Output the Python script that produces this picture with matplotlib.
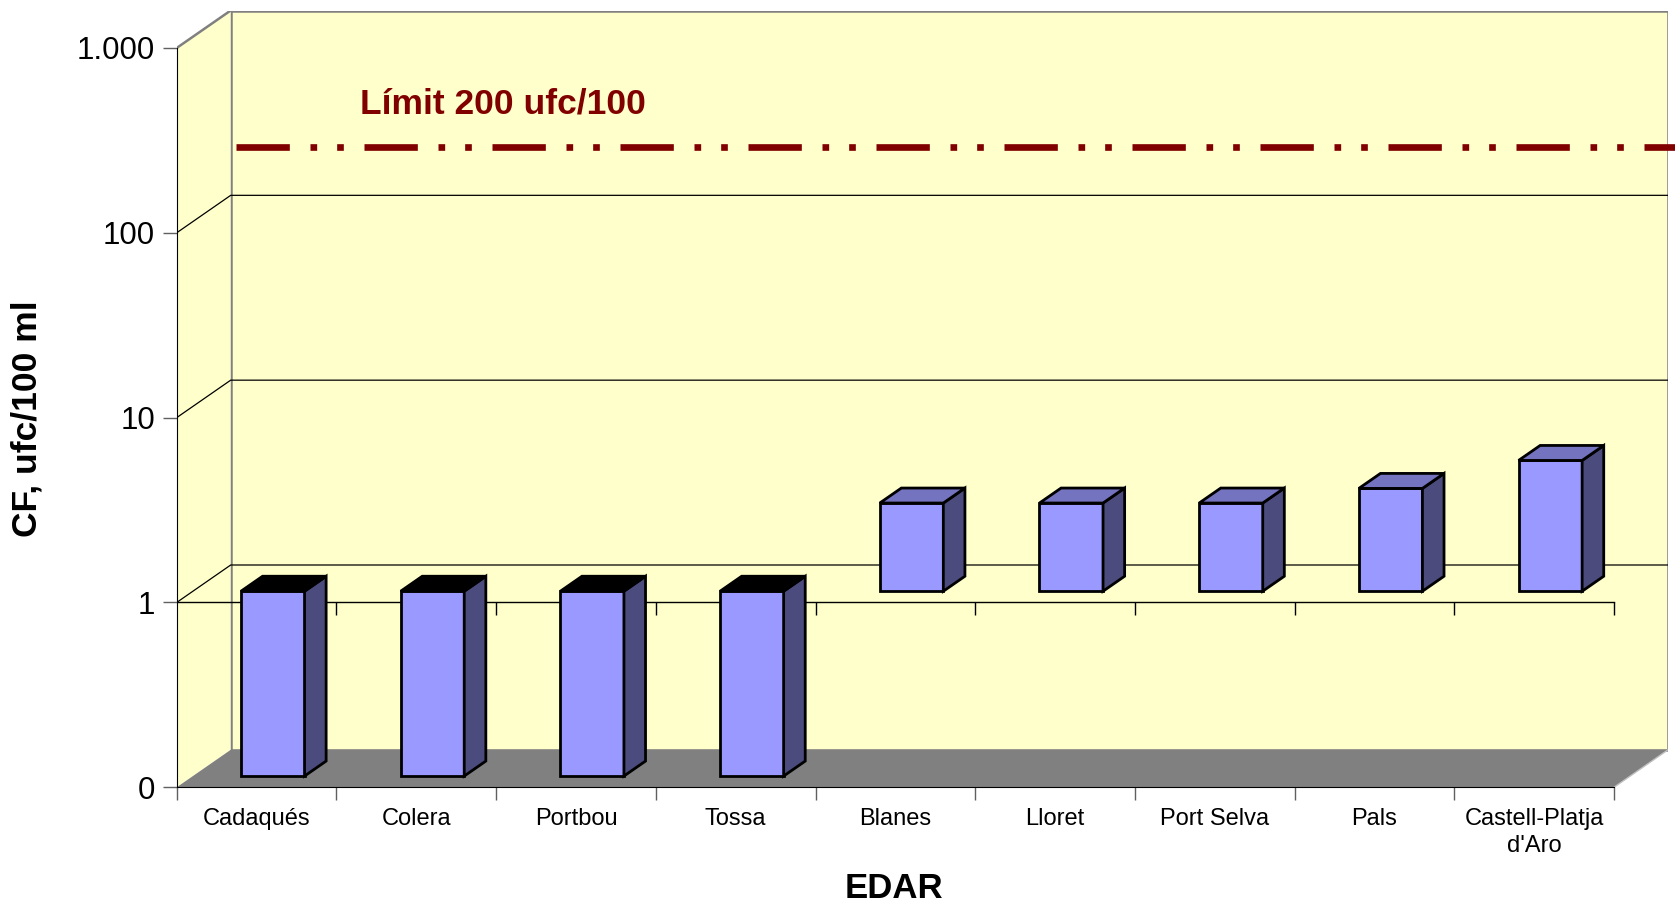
import numpy as np
import matplotlib.pyplot as plt
from matplotlib.patches import Polygon
from matplotlib.ticker import FixedLocator, NullLocator

plt.rcParams['font.family'] = ['Liberation Sans', 'DejaVu Sans']

# data
edar = ['Cadaqués', 'Colera', 'Portbou', 'Tossa', 'Blanes', 'Lloret',
        'Port Selva', 'Pals', 'Castell-Platja\nd\'Aro']
cf = [0.1, 0.1, 0.1, 0.1, 3.0, 3.0, 3.0, 3.6, 5.1]
limit = 200
yticks = [0.1, 1, 10, 100, 1000]
ylabels = ['0', '1', '10', '100', '1.000']

# 3d look
n = len(edar)
dx = 54 / 159.7           # depth shift in category units
k = 10 ** (37.5 / 185)    # depth shift as a factor on the log axis
f0, f1 = 0.3, 0.7         # bar front / back depth
w = 0.398
base = 1                  # category axis crosses at 1

wall = '#FFFFCC'
edge = '#808080'

fig = plt.figure(figsize=(16.75, 9.02), dpi=100)
ax = fig.add_axes([176.7 / 1675, (902 - 787.3) / 902, 1491.3 / 1675, 776.8 / 902])
ax.set_yscale('log')
ax.set_xlim(0, n + dx)
ax.set_ylim(0.1, 1000 * k)
ax.patch.set_visible(False)

ymin, ymax = yticks[0], yticks[-1]
# walls and floor
ax.add_patch(Polygon([(dx, ymin * k), (n + dx, ymin * k), (n + dx, ymax * k), (dx, ymax * k)],
                     closed=True, facecolor=wall, edgecolor=edge, lw=1.8, zorder=1))
ax.add_patch(Polygon([(0, ymin), (0, ymax), (dx, ymax * k), (dx, ymin * k)],
                     closed=True, facecolor=wall, edgecolor='none', zorder=1))
ax.plot([0, dx], [ymax, ymax * k], color=edge, lw=1.8, zorder=2)
ax.add_patch(Polygon([(0, ymin), (n, ymin), (n + dx, ymin * k), (dx, ymin * k)],
                     closed=True, facecolor='#808080', edgecolor='none', zorder=1))
ax.plot([n, n + dx], [ymin, ymin * k], color='#C0C0C0', lw=1, zorder=2)

# gridlines
for v in yticks[1:-1]:
    ax.plot([0, dx, n + dx], [v, v * k, v * k], color='black', lw=0.9, zorder=2)

# category axis at 1
ax.plot([0, n], [base, base], color='black', lw=1, zorder=3)
ax.vlines(np.arange(1, n + 1), base / 10 ** (13 / 185), base, color='black', lw=1, zorder=3)

# bars
a, b = k ** f0, k ** f1
ddx = (f1 - f0) * dx
for i, v in enumerate(cf):
    lo, hi = min(v, base), max(v, base)
    x0 = i + 0.5 - w / 2 + f0 * dx
    x1 = x0 + w
    top_c = '#000000' if v < base else '#7373BF'
    ax.add_patch(Polygon([(x0, lo * a), (x1, lo * a), (x1, hi * a), (x0, hi * a)],
                         facecolor='#9999FF', edgecolor='black', lw=2, zorder=4))
    ax.add_patch(Polygon([(x1, lo * a), (x1 + ddx, lo * b), (x1 + ddx, hi * b), (x1, hi * a)],
                         facecolor='#4B4B7D', edgecolor='black', lw=2, zorder=4))
    ax.add_patch(Polygon([(x0, hi * a), (x1, hi * a), (x1 + ddx, hi * b), (x0 + ddx, hi * b)],
                         facecolor=top_c, edgecolor='black', lw=2, zorder=4))

# limit line
fl = 0.81
ax.plot([fl * dx + 0.1, n + 2 * dx], [limit * k ** fl] * 2, color='#800000', lw=4.8,
        dashes=(8, 3.1, 1, 3, 1, 3.1), solid_capstyle='butt', zorder=5, clip_on=False)
ax.text(1.148, limit * k ** fl * 10 ** (33.3 / 185), 'Límit 200 ufc/100', color='#800000',
        fontsize=25.5, fontweight='bold', va='baseline', ha='left', zorder=5)

# axes
for s in ['top', 'right']:
    ax.spines[s].set_visible(False)
ax.spines['left'].set_bounds(ymin, ymax)
ax.spines['bottom'].set_bounds(0, n)
ax.spines['left'].set_zorder(6)
ax.yaxis.set_major_locator(FixedLocator(yticks))
ax.yaxis.set_minor_locator(NullLocator())
ax.set_yticklabels(ylabels)
ax.tick_params(axis='y', length=10, width=1, color='#606060', pad=5.5, labelsize=22.5)

ax.set_xticks(np.arange(0, n + 1))
ax.set_xticklabels([])
ax.set_xticks(np.arange(n) + 0.5, minor=True)
ax.set_xticklabels(edar, minor=True, fontsize=17, linespacing=1.3)
ax.tick_params(axis='x', which='major', length=9, width=1, color='#606060')
ax.tick_params(axis='x', which='minor', length=0, pad=15)

fig.text(27 / 1675, 1 - 419 / 902, 'CF, ufc/100 ml', rotation=90, fontsize=25.5,
         fontweight='bold', ha='center', va='center')
fig.text(894 / 1675, 1 - 888 / 902, 'EDAR', fontsize=25, fontweight='bold',
         ha='center', va='center')

fig.savefig('out.png', dpi=100)
